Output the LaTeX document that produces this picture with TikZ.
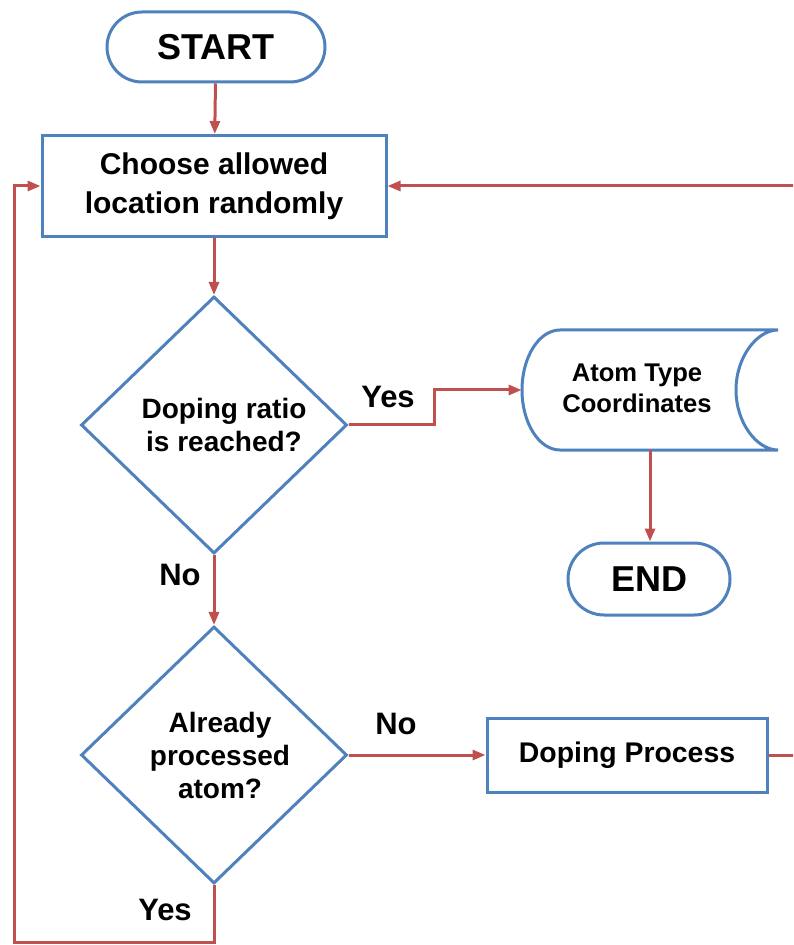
\documentclass[tikz,border=0pt]{standalone}
\usepackage{fontspec}
\setmainfont{Liberation Sans}
\usetikzlibrary{shapes.geometric,arrows.meta}
\definecolor{flowblue}{HTML}{4F81BD}
\definecolor{flowred}{HTML}{C0504D}
\begin{document}
\begin{tikzpicture}[x=0.5pt,y=-0.5pt,
  outline/.style={draw=flowblue,line width=1.5pt,fill=white,font=\bfseries,align=center,inner sep=0pt},
  terminal/.style={outline,rounded corners=17.5pt,font=\bfseries\fontsize{18}{21}\selectfont},
  process/.style={outline,font=\bfseries\fontsize{14.2}{17}\selectfont},
  decision/.style={outline,diamond,minimum width=133pt,minimum height=128.5pt,font=\bfseries\fontsize{14}{16.5}\selectfont},
  flow/.style={draw=flowred,line width=1.5pt,-{Triangle[length=6.5pt,width=5pt]}},
  answer/.style={font=\bfseries\fontsize{15.5}{18}\selectfont,inner sep=0pt}
]
\useasboundingbox (0,0) rectangle (793,945);
\begin{scope}
\clip (0,0) rectangle (793,945);

% terminals and steps
\node[terminal,minimum width=109pt,minimum height=35pt] (start) at (216,47) {START};
\node[process,minimum width=172pt,minimum height=50.5pt,font=\bfseries\fontsize{15}{19.5}\selectfont] (choose) at (214,186) {Choose allowed\\location randomly};
\node[decision] (ratio) at (214,425) {\hspace*{10pt}Doping ratio\\\hspace*{10pt}is reached?};
\node[decision] (done) at (214,755) {\hspace*{6pt}Already\\\hspace*{6pt}processed\\\hspace*{6pt}atom?};
\node[process,minimum width=140pt,minimum height=37pt] (dope) at (627,755) {Doping Process};
\node[terminal,minimum width=81pt,minimum height=36pt,rounded corners=18pt] (finish) at (649,579) {END};

% stored data symbol for the output file
\node[minimum width=128pt,minimum height=60pt,inner sep=0pt] (store) at (650,390) {};
\draw[draw=flowblue,line width=1.5pt,fill=white]
  (560,330) -- (778,330)
  .. controls (757,330) and (736,357) .. (736,390)
  .. controls (736,423) and (757,450) .. (778,450)
  -- (560,450)
  .. controls (539,450) and (522,423) .. (522,390)
  .. controls (522,357) and (539,330) .. (560,330) -- cycle;
\node[font=\bfseries\fontsize{12.8}{15.5}\selectfont,align=center,inner sep=0pt] (storetext) at (637,388) {Atom Type\\Coordinates};

% connectors
\coordinate (loopL) at (14,942);
\coordinate (loopR) at (812,755);
\coordinate (yesbend) at (434,425);
\draw[flow] (start) -- (choose);
\draw[flow] (choose) -- (ratio);
\draw[flow] (ratio.east) -- (yesbend) |- (store.west);
\draw[flow] (store.south) -- (finish.north -| store.south);
\draw[flow] (ratio) -- (done);
\draw[flow] (done.east) -- (dope.west);
\draw[flow] (dope.east) -- (loopR) |- (choose.east);
\draw[flow] (done.south) |- (loopL) |- (choose.west);

% branch labels
\node[answer] (yes1) at (388,397) {Yes};
\node[answer] (no1) at (180,575) {No};
\node[answer] (no2) at (396,724) {No};
\node[answer] (yes2) at (165,910) {Yes};
\end{scope}
\end{tikzpicture}
\end{document}
